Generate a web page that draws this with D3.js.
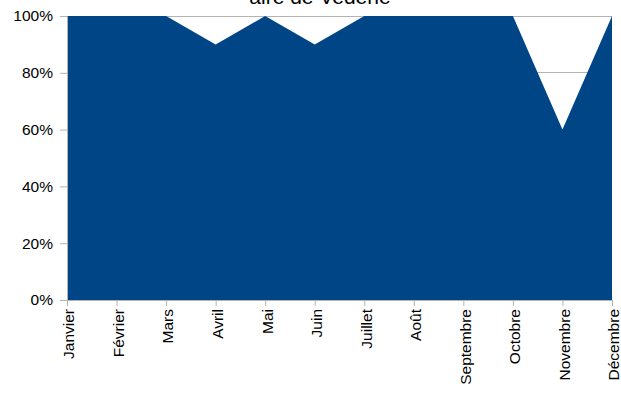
<!DOCTYPE html>
<html>
<head>
<meta charset="utf-8">
<script src="https://cdn.jsdelivr.net/npm/d3@7"></script>
<style>
  html, body { margin: 0; padding: 0; background: #fff; }
  svg { display: block; font-family: "Liberation Sans", Arial, sans-serif; }
</style>
</head>
<body>
<svg id="chart" width="621" height="399"></svg>
<script>
// Monthly share for the Vedène service area
const months = ["Janvier", "Février", "Mars", "Avril", "Mai", "Juin", "Juillet", "Août", "Septembre", "Octobre", "Novembre", "Décembre"];
const values = [100, 100, 100, 90, 100, 90, 100, 100, 100, 100, 60, 100];
const yTicks = [0, 20, 40, 60, 80, 100];
const title = "aire de Vedène";

(function () {
  const svg = d3.select("#chart");
  const plotLeft = 67, plotRight = 612, plotTop = 16, plotBottom = 300;

  const x = d3.scalePoint().domain(months).range([plotLeft, plotRight]);
  const y = d3.scaleLinear().domain([0, 100]).range([plotBottom, plotTop]);

  // horizontal grid lines
  svg.append("g")
    .selectAll("line")
    .data(yTicks)
    .join("line")
    .attr("x1", plotLeft).attr("x2", plotRight)
    .attr("y1", d => y(d)).attr("y2", d => y(d))
    .attr("stroke", "#b3b3b3").attr("stroke-width", 1)
    .attr("shape-rendering", "crispEdges");

  // area
  const data = months.map((m, i) => ({ m, v: values[i] }));
  svg.append("path")
    .datum(data)
    .attr("fill", "#004586")
    .attr("d", d3.area().x(d => x(d.m)).y0(y(0)).y1(d => y(d.v)));

  // y axis
  const yAxis = svg.append("g")
    .attr("transform", `translate(${plotLeft},0)`)
    .call(d3.axisLeft(y).tickValues(yTicks).tickFormat(d => d + "%").tickSize(7).tickPadding(7));
  yAxis.select(".domain").attr("stroke", "#b3b3b3");
  yAxis.selectAll(".tick line").attr("stroke", "#b3b3b3");
  yAxis.selectAll("text").attr("font-size", 15.5).attr("fill", "#000")
    .attr("font-family", "Liberation Sans, Arial, sans-serif");

  // x axis
  const xAxis = svg.append("g")
    .attr("transform", `translate(0,${plotBottom})`)
    .call(d3.axisBottom(x).tickSize(6).tickPadding(0));
  xAxis.select(".domain").attr("stroke", "#b3b3b3");
  xAxis.selectAll(".tick line").attr("stroke", "#b3b3b3");
  xAxis.selectAll("text")
    .attr("font-size", 15.5).attr("fill", "#000")
    .attr("font-family", "Liberation Sans, Arial, sans-serif")
    .attr("text-anchor", "end")
    .attr("transform", "rotate(-90)")
    .attr("x", -9).attr("y", 1).attr("dy", "0.38em");

  // title
  svg.append("text")
    .attr("x", 320).attr("y", 4)
    .attr("text-anchor", "middle")
    .attr("font-size", 21)
    .attr("fill", "#000")
    .text(title);
})();
</script>
</body>
</html>
